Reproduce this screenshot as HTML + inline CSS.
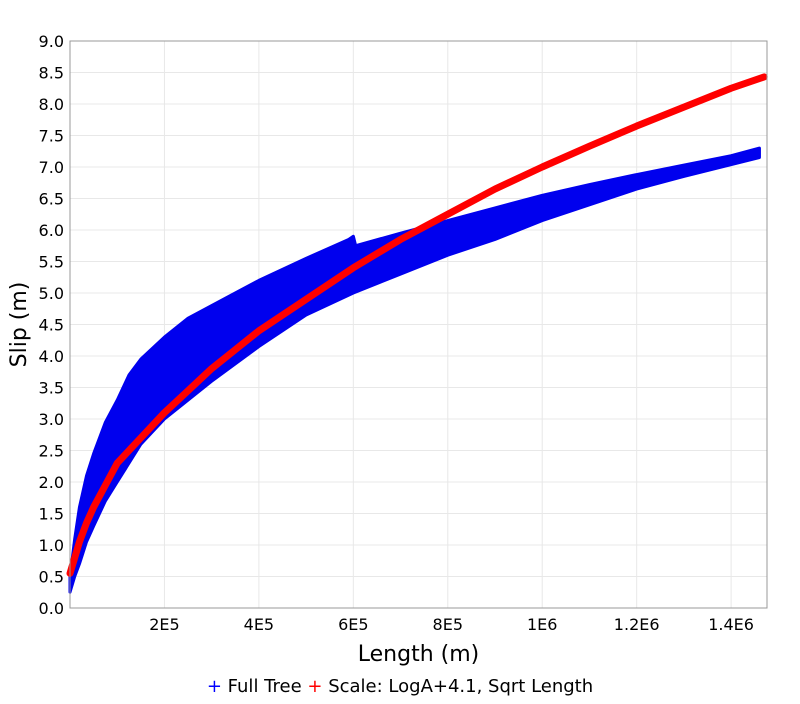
<!DOCTYPE html>
<html><head><meta charset="utf-8"><style>
body{margin:0;background:#fff;font-family:"DejaVu Sans","Liberation Sans",sans-serif;}
</style></head><body>
<svg id="chart" width="800" height="700" xmlns="http://www.w3.org/2000/svg" style="font-family:'DejaVu Sans','Liberation Sans',sans-serif"></svg>
<script>
const xTicks=[2e5,4e5,6e5,8e5,1e6,1.2e6,1.4e6];
const xTickLabels=["2E5","4E5","6E5","8E5","1E6","1.2E6","1.4E6"];
const yTicks=[0,0.5,1,1.5,2,2.5,3,3.5,4,4.5,5,5.5,6,6.5,7,7.5,8,8.5,9];
const redX=[0,0.1e5,0.2e5,0.35e5,0.5e5,0.75e5,1e5,1.5e5,2e5,2.5e5,3e5,3.5e5,4e5,5e5,6e5,7e5,8e5,9e5,1e6,1.1e6,1.2e6,1.3e6,1.4e6,1.47e6];
const redY=[0.55,0.8,1.05,1.35,1.6,1.95,2.3,2.7,3.1,3.45,3.8,4.1,4.4,4.9,5.4,5.85,6.25,6.65,7.0,7.33,7.65,7.95,8.25,8.43];
const blueUpX=[0,0.1e5,0.2e5,0.35e5,0.5e5,0.75e5,1e5,1.25e5,1.5e5,2e5,2.5e5,3e5,3.5e5,4e5,5e5,5.9e5,6e5,6.05e5,7e5,8e5,9e5,1e6,1.1e6,1.2e6,1.3e6,1.4e6,1.46e6];
const blueUpY=[0.5,1.1,1.6,2.1,2.45,2.95,3.3,3.7,3.95,4.3,4.6,4.8,5.0,5.2,5.55,5.85,5.9,5.75,5.95,6.15,6.35,6.55,6.72,6.88,7.03,7.18,7.3];
const blueLoX=[1.46e6,1.3e6,1.2e6,1.1e6,1e6,9e5,8e5,7e5,6e5,5e5,4e5,3e5,2.5e5,2e5,1.5e5,1e5,0.75e5,0.5e5,0.35e5,0.2e5,0.1e5,0];
const blueLoY=[7.15,6.85,6.65,6.4,6.15,5.85,5.6,5.3,5.0,4.65,4.15,3.6,3.3,3.0,2.6,2.0,1.7,1.3,1.05,0.7,0.5,0.25];
const L=70,R=767,T=41,B=608,xMax=1.476e6,yMax=9;
const sx=v=>L+v/xMax*(R-L), sy=v=>B-v/yMax*(B-T);
const svg=document.getElementById('chart'),NS="http://www.w3.org/2000/svg";
function mk(t,a,p){const e=document.createElementNS(NS,t);for(const k in a)e.setAttribute(k,a[k]);(p||svg).appendChild(e);return e;}
const bg=mk('rect',{x:L,y:T,width:R-L,height:B-T,fill:'#fff',stroke:'#999'});


yTicks.forEach(v=>{const g=mk('line',{x1:L,x2:R,y1:sy(v),y2:sy(v),stroke:'#e8e8e8'});


const t=mk('text',{x:L-6,y:sy(v)+6,'text-anchor':'end','font-size':16,fill:'#000'});t.textContent=v.toFixed(1);

});
xTicks.forEach((v,i)=>{const g=mk('line',{x1:sx(v),x2:sx(v),y1:T,y2:B,stroke:'#e8e8e8'});


const t=mk('text',{x:sx(v),y:B+22,'text-anchor':'middle','font-size':16,fill:'#000'});t.textContent=xTickLabels[i];

});
let pts=blueUpX.map((x,i)=>sx(x)+','+sy(blueUpY[i])).concat(blueLoX.map((x,i)=>sx(x)+','+sy(blueLoY[i])));
const band=mk('polygon',{points:pts.join(' '),fill:'#0000ee',stroke:'#0000ee','stroke-width':3,'stroke-linejoin':'round'});


const red=mk('polyline',{points:redX.map((x,i)=>sx(x)+','+sy(redY[i])).join(' '),fill:'none',stroke:'#f00','stroke-width':7,'stroke-linejoin':'round','stroke-linecap':'round'});


mk('rect',{x:L,y:T,width:R-L,height:B-T,fill:'none',stroke:'#999'});
const xt=mk('text',{x:(L+R)/2,y:661,'text-anchor':'middle','font-size':22});xt.textContent='Length (m)';


const yt=mk('text',{x:0,y:0,'text-anchor':'middle','font-size':22,transform:`translate(26,${(T+B)/2}) rotate(-90)`});yt.textContent='Slip (m)';


const lg=mk('text',{x:400,y:692,'text-anchor':'middle','font-size':18});


lg.innerHTML='<tspan fill="#00f">+</tspan> Full Tree <tspan fill="#f00">+</tspan> Scale: LogA+4.1, Sqrt Length';
</script>
</body></html>
